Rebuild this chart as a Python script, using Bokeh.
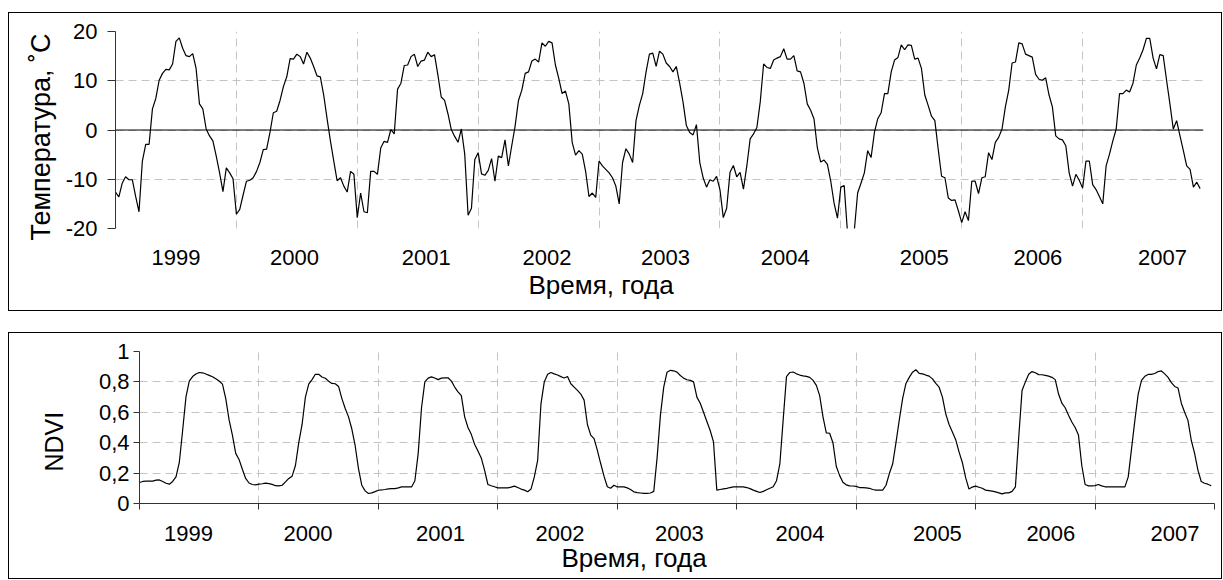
from bokeh.plotting import figure
from bokeh.models import Range1d, FixedTicker, Span, Spacer, CustomJSTickFormatter, Title
from bokeh.layouts import column, row
from bokeh.embed import file_html
from bokeh.resources import INLINE

# ---------------- data ----------------
year_bounds = [1999, 2000, 2001, 2002, 2003, 2004, 2005, 2006, 2007, 2008]
per_year = 36  # 10-day steps

# where the year captions sit on each time axis (decimal years)
temp_label_pos = [1999.50, 2000.48, 2001.57, 2002.57, 2003.55, 2004.54, 2005.69, 2006.63, 2007.66]
ndvi_label_pos = [1999.41, 2000.41, 2001.52, 2002.52, 2003.52, 2004.53, 2005.68, 2006.63, 2007.67]

temp_ticks = [-20, -10, 0, 10, 20]
ndvi_ticks = [0, 0.2, 0.4, 0.6, 0.8, 1.0]

temp_1999 = [-12.6, -13.6, -10.8, -9.5, -10.1, -10.1, -13.5, -16.6, -6.3, -2.9, -2.9, 4.3, 6.4, 10.1, 11.5, 12.3, 12.2, 13.4,
             18.0, 18.7, 16.6, 15.1, 14.9, 15.5, 12.5, 5.3, 4.3, 0.2, -1.2, -2.2, -5.3, -8.7, -12.5, -7.7, -8.7, -9.9]
temp_2000 = [-17.1, -16.1, -13.2, -10.4, -10.2, -9.7, -8.4, -6.6, -4.0, -3.9, -0.5, 3.5, 3.8, 6.0, 8.8, 10.8, 14.5, 14.4,
             15.4, 14.9, 13.4, 15.8, 14.6, 12.9, 11.0, 10.8, 7.1, 2.3, -2.2, -6.3, -10.3, -9.7, -11.4, -12.6, -8.4, -9.0]
temp_2001 = [-17.8, -12.8, -16.6, -16.8, -8.4, -8.4, -9.0, -3.6, -2.3, -2.5, 0.1, -0.8, 8.3, 9.5, 13.1, 13.2, 14.9, 15.4,
             12.9, 14.0, 14.2, 15.8, 14.9, 15.3, 11.2, 6.7, 6.0, 3.3, 0.1, -1.3, -2.5, 0.2, -4.9, -17.3, -15.9, -6.0]
temp_2002 = [-4.6, -8.9, -9.2, -8.2, -5.8, -10.4, -5.3, -5.6, -2.0, -7.3, -3.2, 0.8, 6.0, 8.1, 11.5, 11.8, 14.0, 14.4,
             13.8, 17.7, 17.0, 18.0, 17.7, 13.2, 10.5, 7.4, 7.9, 5.3, -2.5, -5.1, -4.2, -4.9, -8.4, -13.5, -12.8, -13.7]
temp_2003 = [-6.3, -7.3, -8.0, -8.7, -9.7, -11.4, -15.0, -6.6, -3.8, -4.9, -6.6, 1.9, 5.0, 7.4, 11.8, 15.4, 15.6, 12.9,
             16.0, 15.4, 13.6, 12.9, 11.8, 12.9, 9.5, 5.7, 0.9, -0.5, -1.0, 1.1, -6.6, -9.7, -11.6, -10.1, -10.4, -9.4]
temp_2004 = [-12.1, -17.8, -15.9, -8.6, -7.2, -9.5, -8.6, -12.0, -7.3, -1.8, -0.8, 0.5, 5.7, 13.4, 12.7, 12.5, 14.2, 14.6,
             14.9, 16.5, 14.4, 14.4, 15.1, 12.0, 11.8, 9.5, 5.3, 4.0, 2.3, -3.6, -6.5, -6.1, -7.0, -10.4, -14.9, -17.9]
temp_2005 = [-11.6, -11.3, -21.0, -23.0, -20.5, -12.8, -10.8, -8.7, -4.2, -5.6, -0.5, 2.3, 3.5, 7.4, 7.4, 11.8, 14.2, 14.7,
             17.3, 16.3, 17.3, 17.2, 14.4, 14.6, 12.5, 7.1, 5.0, 2.8, 1.9, -3.9, -9.4, -9.7, -13.8, -14.3, -14.2, -16.4]
temp_2006 = [-18.8, -16.6, -18.4, -10.4, -10.4, -12.9, -9.7, -9.5, -4.6, -6.0, -2.5, -1.5, 0.2, 4.7, 8.1, 13.6, 13.8, 17.7,
             17.5, 15.4, 15.1, 14.8, 11.3, 10.3, 10.1, 10.6, 7.1, 4.7, -1.2, -1.8, -2.0, -3.2, -8.7, -11.4, -9.0, -10.2]
temp_2007 = [-11.8, -6.3, -6.3, -11.1, -12.1, -13.5, -15.0, -7.3, -4.9, -2.2, 0.2, 7.4, 7.4, 8.1, 7.7, 9.5, 13.2, 14.6,
             16.3, 18.6, 18.6, 14.6, 12.4, 15.3, 15.1, 10.1, 5.3, 0.2, 1.9, -1.2, -4.2, -7.3, -8.0, -11.6, -10.6, -11.9]

ndvi_1999 = [0.138, 0.145, 0.147, 0.147, 0.147, 0.154, 0.155, 0.145, 0.133, 0.127, 0.145, 0.175, 0.27, 0.48, 0.70, 0.805,
             0.835, 0.852, 0.862, 0.86, 0.852, 0.843, 0.834, 0.82, 0.806, 0.785, 0.69, 0.55, 0.45, 0.33, 0.29, 0.225,
             0.165, 0.135, 0.125, 0.122]
ndvi_2000 = [0.127, 0.130, 0.134, 0.131, 0.126, 0.117, 0.116, 0.120, 0.142, 0.165, 0.180, 0.25, 0.40, 0.52, 0.70, 0.785,
             0.815, 0.85, 0.85, 0.832, 0.824, 0.805, 0.79, 0.788, 0.77, 0.69, 0.625, 0.57, 0.49, 0.38, 0.23, 0.12,
             0.083, 0.066, 0.07, 0.078]
ndvi_2001 = [0.087, 0.089, 0.092, 0.096, 0.098, 0.098, 0.103, 0.109, 0.109, 0.109, 0.109, 0.15, 0.33, 0.63, 0.80, 0.825,
             0.833, 0.826, 0.815, 0.825, 0.827, 0.827, 0.805, 0.766, 0.735, 0.71, 0.57, 0.50, 0.455, 0.39, 0.345, 0.30,
             0.22, 0.125, 0.117, 0.11]
ndvi_2002 = [0.103, 0.103, 0.103, 0.103, 0.108, 0.114, 0.105, 0.095, 0.088, 0.077, 0.095, 0.175, 0.284, 0.656, 0.80, 0.85,
             0.862, 0.853, 0.845, 0.835, 0.826, 0.836, 0.788, 0.766, 0.744, 0.72, 0.68, 0.52, 0.45, 0.427, 0.35, 0.263,
             0.18, 0.11, 0.10, 0.12]
ndvi_2003 = [0.109, 0.109, 0.109, 0.103, 0.092, 0.077, 0.072, 0.069, 0.066, 0.067, 0.069, 0.080, 0.30, 0.58, 0.766, 0.864,
             0.876, 0.873, 0.864, 0.842, 0.825, 0.814, 0.81, 0.80, 0.70, 0.66, 0.60, 0.54, 0.48, 0.405, 0.088, 0.092,
             0.096, 0.10, 0.105, 0.109]
ndvi_2004 = [0.109, 0.109, 0.109, 0.105, 0.098, 0.088, 0.080, 0.072, 0.08, 0.09, 0.10, 0.11, 0.15, 0.26, 0.55, 0.835,
             0.862, 0.865, 0.853, 0.845, 0.84, 0.836, 0.83, 0.81, 0.777, 0.71, 0.57, 0.464, 0.462, 0.40, 0.245, 0.185,
             0.14, 0.123, 0.116, 0.115]
ndvi_2005 = [0.113, 0.105, 0.104, 0.103, 0.10, 0.092, 0.088, 0.088, 0.088, 0.12, 0.197, 0.26, 0.40, 0.55, 0.69, 0.79,
             0.83, 0.864, 0.88, 0.856, 0.853, 0.845, 0.838, 0.82, 0.79, 0.765, 0.70, 0.59, 0.52, 0.47, 0.42, 0.34,
             0.27, 0.17, 0.095, 0.108]
ndvi_2006 = [0.114, 0.107, 0.100, 0.088, 0.085, 0.081, 0.076, 0.07, 0.063, 0.07, 0.07, 0.08, 0.11, 0.438, 0.744, 0.80,
             0.85, 0.868, 0.86, 0.848, 0.847, 0.843, 0.838, 0.83, 0.815, 0.72, 0.66, 0.63, 0.58, 0.536, 0.50, 0.45,
             0.25, 0.125, 0.116, 0.116]
ndvi_2007 = [0.118, 0.125, 0.116, 0.11, 0.109, 0.109, 0.109, 0.109, 0.109, 0.109, 0.175, 0.361, 0.547, 0.72, 0.81, 0.837,
             0.849, 0.849, 0.855, 0.868, 0.872, 0.853, 0.83, 0.795, 0.77, 0.76, 0.66, 0.60, 0.547, 0.416, 0.33, 0.22,
             0.145, 0.133, 0.127, 0.117]

temp_title = "Температура, ˚С"
ndvi_title = "NDVI"
time_title = "Время, года"

# ---------------- build ----------------
temp = (temp_1999 + temp_2000 + temp_2001 + temp_2002 + temp_2003 + temp_2004 + temp_2005 + temp_2006 + temp_2007)
ndvi = (ndvi_1999 + ndvi_2000 + ndvi_2001 + ndvi_2002 + ndvi_2003 + ndvi_2004 + ndvi_2005 + ndvi_2006 + ndvi_2007)
t_temp = [year_bounds[0] + i / per_year for i in range(len(temp))]
t_ndvi = [year_bounds[0] + i / per_year for i in range(len(ndvi))]

FONT = "Liberation Sans"
GRID = "#c4c4c4"
DASH = "8 5"
TICK_FS = "22px"

year_fmt = CustomJSTickFormatter(code="return Math.floor(tick + 1e-6).toString();")
int_fmt = CustomJSTickFormatter(code="return Math.round(tick).toString();")
comma_fmt = CustomJSTickFormatter(code="return (Math.round(tick * 10) / 10).toString().replace('.', ',');")


def make_fig(w, h, left, right, top, bottom, yr):
    p = figure(width=w, height=h, x_range=Range1d(year_bounds[0], year_bounds[-1]), y_range=yr,
               output_backend="svg", toolbar_location=None,
               min_border_left=left, min_border_right=right, min_border_top=top, min_border_bottom=bottom)
    p.outline_line_color = None
    p.background_fill_color = "white"
    p.border_fill_color = "white"
    p.xgrid.ticker = FixedTicker(ticks=year_bounds)
    for g in (p.xgrid, p.ygrid):
        g.grid_line_color = GRID
        g.grid_line_dash = DASH
        g.grid_line_width = 1
    for ax in (p.xaxis[0], p.yaxis[0]):
        ax.major_label_text_font = FONT
        ax.major_label_text_color = "black"
        ax.major_label_text_font_size = TICK_FS
        ax.minor_tick_line_color = None
    return p


def add_title(p, text, side, size, offset, standoff):
    t = Title(text=text, align="left", offset=offset, standoff=standoff, text_font=FONT,
              text_font_size=size, text_font_style="normal", text_color="black")
    p.add_layout(t, side)


# ---- temperature panel ----
p1 = make_fig(1212, 297, 106, 18, 18, 82, Range1d(-20, 20))
p1.line(t_temp, temp, line_color="black", line_width=1.2)
p1.add_layout(Span(location=0, dimension="width", line_color="black", line_width=1))

ya = p1.yaxis[0]
ya.ticker = FixedTicker(ticks=temp_ticks)
ya.formatter = int_fmt
ya.axis_line_color = "#333333"
ya.major_tick_line_color = "#333333"
ya.major_tick_out = 8
ya.major_tick_in = 0
ya.major_label_standoff = 10

xa = p1.xaxis[0]
xa.ticker = FixedTicker(ticks=temp_label_pos)
xa.formatter = year_fmt
xa.axis_line_color = None
xa.major_tick_line_color = None
xa.major_tick_out = 0
xa.major_tick_in = 0
xa.major_label_standoff = 21

add_title(p1, temp_title, "left", "27px", -12, 13)
add_title(p1, time_title, "below", "26px", 413, 0)

# ---- NDVI panel ----
p2 = make_fig(1212, 245, 129, 7, 18, 75, Range1d(0, 1))
p2.line(t_ndvi, ndvi, line_color="black", line_width=1.2)

ya2 = p2.yaxis[0]
ya2.ticker = FixedTicker(ticks=ndvi_ticks)
ya2.formatter = comma_fmt
ya2.axis_line_color = "#333333"
ya2.major_tick_line_color = "#333333"
ya2.major_tick_out = 6
ya2.major_tick_in = 0
ya2.major_label_standoff = 4

xa2 = p2.xaxis[0]
xa2.ticker = FixedTicker(ticks=ndvi_label_pos, minor_ticks=year_bounds)
xa2.formatter = year_fmt
xa2.axis_line_color = "#333333"
xa2.major_tick_line_color = None
xa2.major_tick_out = 0
xa2.major_tick_in = 0
xa2.minor_tick_line_color = "#333333"
xa2.minor_tick_out = 6
xa2.minor_tick_in = 0
xa2.major_label_standoff = 16

add_title(p2, ndvi_title, "left", "25px", 32, 56)
add_title(p2, time_title, "below", "26px", 422, -5)

box = {"border": "1px solid black"}
layout = row(Spacer(width=8, height=10),
             column(Spacer(height=12, width=1214),
                    column(p1, styles=box),
                    Spacer(height=21, width=1214),
                    column(p2, styles=box)))

open("out.html", "w").write(file_html(layout, INLINE))
